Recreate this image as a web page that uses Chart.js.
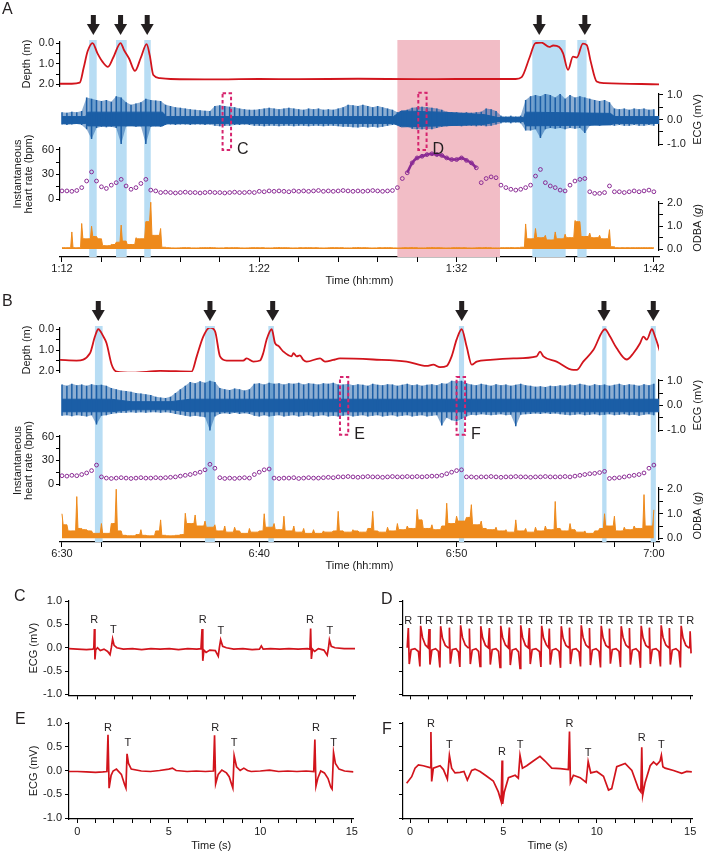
<!DOCTYPE html>
<html>
<head>
<meta charset="utf-8">
<script src="https://cdn.jsdelivr.net/npm/chart.js@4.4.1/dist/chart.umd.min.js"></script>
<style>
  html, body { margin: 0; padding: 0; background: #fff; }
  #fig { position: relative; width: 706px; height: 853px; overflow: hidden; font-family: 'Liberation Sans', Arial, sans-serif; }
  #fig canvas { position: absolute; }
  .tag { position: absolute; font-size: 16px; line-height: 16px; color: #231f20; }
</style>
</head>
<body>
<div id="fig">
  <canvas id="chartA" width="706" height="290" style="left:0;top:0"></canvas>
  <canvas id="chartB" width="706" height="289" style="left:0;top:286px"></canvas>
  <canvas id="chartC" width="360" height="122" style="left:0;top:583px"></canvas>
  <canvas id="chartE" width="360" height="148" style="left:0;top:705px"></canvas>
  <canvas id="chartD" width="366" height="122" style="left:340px;top:583px"></canvas>
  <canvas id="chartF" width="366" height="148" style="left:340px;top:705px"></canvas>
  <div class="tag" style="left:2px;top:1px">A</div>
  <div class="tag" style="left:2px;top:293px">B</div>
  <div class="tag" style="left:14px;top:588px">C</div>
  <div class="tag" style="left:15px;top:711px">E</div>
  <div class="tag" style="left:381px;top:591px">D</div>
  <div class="tag" style="left:382px;top:721px">F</div>
</div>
<script>
// ---- shared axes ----
const timeTicks = [0, 2, 4, 6, 8, 10, 12, 14, 16, 18, 20, 22, 24, 26, 28, 30];
const timeLabelsA = ['1:12', '1:22', '1:32', '1:42'];
const timeLabelsB = ['6:30', '6:40', '6:50', '7:00'];
const depthTicks = [0, 0.5, 1, 1.5, 2];
const ecgTicks = [-1, -0.5, 0, 0.5, 1];
const hrTicks = [0, 15, 30, 45, 60];
const odbaTicks = [0, 0.5, 1, 1.5, 2];
const secTicks = [0, 1, 2, 3, 4, 5, 6, 7, 8, 9, 10, 11, 12, 13, 14, 15];

// minutes after start, one sample every 0.25 min
const sampleTimes = Array.from({ length: 121 }, (_, i) => i * 0.25);

// ---- panel A (1:12 - 1:42) ----
const depthAT = [-0.1, 0.5, 0.9, 1.1, 1.3, 1.55, 1.8, 2.05, 2.33, 2.6, 2.97, 3.15, 3.4, 3.7, 4.0, 4.29, 4.45, 4.63, 4.97, 5.5, 8, 10, 12, 15, 18, 20, 23.0, 23.3, 23.7, 24.0, 24.3, 24.7, 24.9, 25.2, 25.4, 25.65, 25.9, 26.1, 26.4, 26.6, 26.8, 27.1, 27.5, 30.3];
const depthAV = [1.97, 1.97, 1.92, 1.2, 0.4, 0.0, 0.5, 0.9, 1.15, 0.7, 0.0, 0.35, 0.75, 1.35, 0.7, 0.05, 0.6, 1.55, 1.7, 1.74, 1.76, 1.74, 1.75, 1.73, 1.75, 1.74, 1.74, 1.65, 0.7, 0.0, -0.02, 0.19, 0.12, 0.19, 0.5, 1.3, 0.66, 0.7, 0.03, 0.1, 0.9, 1.86, 1.94, 2.0];
const ecgATop = [
  0.30, 0.28, 0.32, 0.30, 0.35, 0.90, 0.85, 0.80, 0.75, 0.80, 0.72, 0.95, 0.90, 0.70, 0.60, 0.65, 0.70, 0.85, 0.80, 0.78, 0.75,
  0.60, 0.55, 0.50, 0.48, 0.45, 0.42, 0.40, 0.38, 0.36, 0.35, 0.55, 0.58, 0.55, 0.52, 0.50, 0.45, 0.42, 0.40, 0.40,
  0.42, 0.45, 0.48, 0.45, 0.42, 0.45, 0.48, 0.45, 0.42, 0.40, 0.45, 0.42, 0.45, 0.40, 0.42, 0.40, 0.45, 0.50, 0.60, 0.58,
  0.55, 0.60, 0.55, 0.50, 0.55, 0.50, 0.45, 0.40, 0.30, 0.35, 0.40, 0.48, 0.50, 0.52, 0.50, 0.48, 0.45, 0.40,
  0.32, 0.30, 0.30, 0.28, 0.30, 0.28, 0.30, 0.32, 0.45, 0.42, 0.35, 0.15, 0.12, 0.15, 0.12, 0.15, 0.80, 0.95, 1.00,
  0.95, 1.05, 1.00, 0.90, 1.05, 0.85, 1.00, 0.90, 0.95, 0.90, 0.85, 0.80, 0.75, 0.80, 0.70,
  0.45, 0.42, 0.45, 0.40, 0.45, 0.42, 0.45, 0.40, 0.42];
const ecgABot = [
  -0.20, -0.22, -0.20, -0.18, -0.22, -0.40, -0.80, -0.35, -0.30, -0.32, -0.30, -0.35, -1.00, -0.28, -0.25, -0.30, -0.28, -1.00, -0.30, -0.28, -0.30,
  -0.22, -0.20, -0.22, -0.20, -0.20, -0.22, -0.20, -0.20, -0.22, -0.20, -0.25, -0.28, -0.25, -0.25, -0.22, -0.22, -0.20, -0.22, -0.25,
  -0.25, -0.28, -0.25, -0.25, -0.28, -0.25, -0.25, -0.28, -0.25, -0.25, -0.28, -0.25, -0.25, -0.28, -0.25, -0.25, -0.28, -0.30, -0.30, -0.32,
  -0.33, -0.30, -0.33, -0.30, -0.33, -0.30, -0.25, -0.22, -0.20, -0.22, -0.30, -0.38, -0.40, -0.40, -0.38, -0.40, -0.35, -0.30,
  -0.28, -0.25, -0.25, -0.28, -0.25, -0.25, -0.28, -0.25, -0.28, -0.25, -0.20, -0.15, -0.12, -0.15, -0.12, -0.15, -0.45, -0.45, -0.40,
  -0.75, -0.40, -0.35, -0.38, -0.35, -0.40, -0.35, -0.38, -0.35, -0.55, -0.25, -0.22, -0.25, -0.20, -0.22,
  -0.25, -0.22, -0.25, -0.25, -0.22, -0.25, -0.25, -0.22, -0.25];
// solid noise band under the beats
const ecgACoreT = [0, 1.2, 1.3, 5.1, 5.3, 16.8, 17.2, 19.2, 21.4, 22.1, 23.4, 23.5, 27.8, 28, 30.3];
const ecgACoreHi = [0.12, 0.12, 0.3, 0.3, 0.12, 0.12, 0.35, 0.3, 0.2, 0.08, 0.08, 0.3, 0.25, 0.12, 0.12];
const ecgACoreLo = [-0.16, -0.16, -0.26, -0.26, -0.16, -0.16, -0.3, -0.26, -0.2, -0.08, -0.08, -0.26, -0.22, -0.16, -0.16];
const hrA = [
  10, 10, 9.5, 10.5, 14, 22, 33, 22, 15, 13, 17, 20, 24, 16, 12, 14, 19, 24, 11, 10,
  8, 8.5, 8, 7.5, 8, 8.5, 8, 8, 7.5, 8, 8.5, 8, 8, 7.5, 8, 8.5, 8, 8, 8.5, 8,
  9.5, 9, 10, 9.5, 10, 9.5, 9, 10, 9.5, 10, 9.5, 10, 10.5, 9.5, 10, 9.5, 10, 10.5, 10, 9.5,
  10, 9.5, 10, 10.5, 10, 9.5, 10, 10.5,
  14, 25, 32, 44, 50, 52, 54, 55, 54, 53, 50, 48, 48, 50, 47, 44, 38,
  20, 25, 27, 26, 17, 14, 12, 11, 12, 14,
  17, 28, 36, 20, 16, 14, 11, 10, 17, 22, 24, 25, 9, 7,
  7, 8, 16, 9, 9, 8, 9, 10, 9, 10, 11, 9];
// stretch where beats are so close that the dots merge into a line
const hrADense = [17.5, 21.0];
const odbaA = [
  0.06, 0.06, 0.75, 0.06, 1.12, 0.45, 1.0, 0.55, 0.45, 0.15, 0.2, 0.3, 1.05, 0.35, 0.2, 0.5, 0.45, 1.2, 2.05, 0.6, 0.9, 0.08,
  0.06, 0.05, 0.06, 0.07, 0.06, 0.05, 0.06, 0.06, 0.07, 0.06, 0.05, 0.06, 0.06, 0.07, 0.06, 0.05, 0.06, 0.07, 0.06, 0.06,
  0.05, 0.06, 0.07, 0.06, 0.06, 0.05, 0.06, 0.06, 0.07, 0.06, 0.06, 0.05, 0.06, 0.07, 0.06, 0.06, 0.05, 0.06, 0.07, 0.06,
  0.06, 0.05, 0.06, 0.06, 0.07, 0.06, 0.05, 0.06, 0.06, 0.07, 0.06, 0.05, 0.06, 0.07, 0.06, 0.06, 0.05, 0.06, 0.07, 0.06,
  0.06, 0.05, 0.06, 0.06, 0.07, 0.06, 0.05, 0.06, 0.06, 0.07, 0.06,
  0.08, 1.1, 0.45, 0.9, 0.5, 0.6, 0.4, 0.75, 0.45, 0.65, 0.5, 1.25, 1.2, 0.55, 0.7, 0.5, 0.6, 0.45, 0.85, 0.1,
  0.06, 0.06, 0.06, 0.06, 0.06, 0.06, 0.06, 0.06];
const blueBandsA = [[1.38, 1.76], [2.74, 3.28], [4.17, 4.5], [23.84, 25.53], [26.12, 26.59]];
const pinkBandsA = [[17.0, 22.2]];
const arrowsA = [1.59, 2.97, 4.32, 24.19, 26.5];
const boxesA = [[8.14, 8.57, 1.07, -1.24, 'C'], [18.06, 18.48, 1.09, -1.24, 'D']];

// ---- panel B (6:30 - 7:00) ----
const depthBT = [-0.1, 0.74, 1.42, 1.67, 1.84, 2.1, 2.26, 2.52, 2.77, 3.6, 4.97, 6.57, 6.83, 7.16, 7.5, 7.76, 8.01, 8.35, 9.19, 9.36, 9.7, 10.04, 10.2, 10.37, 10.63, 10.8, 10.97, 11.22, 11.64, 11.73, 11.9, 12.06, 12.23, 12.4, 13.08, 13.33, 13.75, 14.09, 15.78, 17.47, 18.48, 18.82, 19.16, 19.5, 19.75, 20.0, 20.26, 20.51, 20.77, 21.02, 21.7, 22.88, 24.06, 24.23, 24.4, 25.07, 25.92, 26.09, 26.42, 26.93, 27.52, 27.78, 28.11, 28.62, 28.96, 29.3, 29.47, 29.64, 29.9, 30.06, 30.31];
const depthBV = [1.47, 1.5, 1.15, 0.35, 0.0, 0.35, 0.67, 1.7, 2.03, 2.08, 2.0, 2.03, 1.3, 0.35, -0.08, 0.1, 1.3, 1.5, 1.5, 1.4, 1.55, 1.5, 1.15, 0.5, 0.0, 0.67, 0.8, 1.07, 1.3, 1.15, 1.3, 1.25, 1.47, 1.55, 1.4, 1.55, 1.47, 1.4, 1.45, 1.55, 1.76, 1.7, 1.82, 1.76, 1.3, 0.5, 0.0, 0.83, 1.7, 1.55, 1.47, 1.4, 1.3, 1.07, 1.3, 1.55, 1.95, 1.95, 1.55, 1.0, 0.0, 0.35, 0.9, 1.45, 1.15, 0.67, 0.35, 0.5, 0.0, 0.35, 1.07];
const ecgBTop = [
  0.85, 0.8, 0.88, 0.82, 0.85, 0.8, 0.86, 0.82, 0.84, 0.8,
  0.7, 0.65, 0.6, 0.58, 0.55, 0.5, 0.48, 0.45, 0.42, 0.35, 0.32, 0.3, 0.35, 0.5, 0.65, 0.8,
  0.95, 0.9, 0.98, 0.92, 1.0, 0.95, 0.7, 0.65, 0.62, 0.68, 0.65, 0.6, 0.65,
  0.88, 0.9, 0.85, 0.92, 0.88, 0.9, 0.85, 0.9, 0.88, 0.92, 0.85, 0.9, 0.88, 0.85, 0.9, 0.88, 0.92, 0.85,
  0.85, 0.88, 0.82, 0.86, 0.84, 0.8, 0.88, 0.84, 0.82, 0.86, 0.85, 0.8, 0.84, 0.88, 0.82, 0.85, 0.8, 0.84, 0.86, 0.82, 0.9, 0.88,
  1.0, 0.98, 1.0, 0.9,
  0.85, 0.82, 0.88, 0.84, 0.8, 0.86, 0.82, 0.85, 0.8, 0.84, 0.88, 0.82, 0.8, 0.76, 0.78, 0.75, 0.8, 0.78, 0.82, 0.8,
  0.85, 0.82, 0.88, 0.84, 0.8, 0.86, 0.82, 0.85, 0.8, 0.84, 0.88, 0.82, 0.86, 0.84, 0.8, 0.86, 0.82, 0.88];
const ecgBBot = [
  -0.42, -0.4, -0.44, -0.4, -0.42, -0.45, -0.4, -0.78, -0.42, -0.4,
  -0.35, -0.32, -0.3, -0.3, -0.28, -0.3, -0.28, -0.3, -0.28, -0.28, -0.3, -0.28, -0.3, -0.35, -0.38, -0.42,
  -0.45, -0.42, -0.45, -0.48, -1.02, -0.45, -0.35, -0.32, -0.35, -0.3, -0.35, -0.32, -0.35,
  -0.42, -0.45, -0.4, -0.45, -0.42, -0.4, -0.45, -0.42, -0.4, -0.45, -0.42, -0.4, -0.45, -0.42, -0.4, -0.45, -0.42, -0.45,
  -0.42, -0.4, -0.45, -0.42, -0.4, -0.45, -0.42, -0.4, -0.45, -0.42, -0.4, -0.45, -0.42, -0.4, -0.45, -0.42, -0.4, -0.45, -0.42, -0.4, -0.82, -0.5,
  -0.6, -0.65, -0.55, -0.45,
  -0.38, -0.4, -0.36, -0.38, -0.4, -0.38, -0.36, -0.4, -0.38, -0.85, -0.38, -0.36, -0.35, -0.33, -0.35, -0.32, -0.35, -0.33, -0.36, -0.38,
  -0.4, -0.38, -0.36, -0.4, -0.38, -0.36, -0.4, -0.38, -0.36, -0.4, -0.38, -0.36, -0.4, -0.38, -0.42, -0.38, -0.36, -0.4];
const ecgBCoreT = [0, 2.5, 3.5, 5.5, 6.5, 30.3];
const ecgBCoreHi = [0.25, 0.25, 0.15, 0.15, 0.25, 0.25];
const ecgBCoreLo = [-0.26, -0.26, -0.18, -0.18, -0.26, -0.26];
const hrB = [
  10.5, 10, 11, 10.5, 12, 14, 17, 24, 9,
  7.5, 7, 7.5, 8, 7.5, 7, 7.5, 8, 7.5, 7.5, 8, 7.5, 8,
  8.5, 9, 10, 11, 12, 13.5, 15, 18, 25, 20, 8,
  7, 7.5, 7, 7.5, 8, 7.5, 12, 15, 18, 19, 7.5,
  7, 7.5, 7.5, 8, 7, 7.5, 8, 7.5, 7.5, 8, 8.5, 8, 9,
  9, 9.5, 9, 8.5, 9, 9.5, 9, 9, 8.5, 9, 9.5, 9, 9, 9.5, 9, 9.5, 9, 9.5, 10, 10,
  11, 13, 15, 17, 18, 9,
  9, 8.5, 9, 9, 9.5, 9, 8.5, 9, 9, 9.5, 9, 9, 8.5, 9, 9, 9.5, 9, 9, 9, 9.5, 9,
  10, 11, 12, 13, 13.5, 14.5, 16, 7,
  7.5, 8, 9, 10, 11, 12, 14, 20, 24];
const odbaB = [
  1.0, 0.55, 0.3, 1.7, 0.4, 0.35, 0.3, 0.2, 0.6, 0.2, 0.6, 2.0, 0.3, 0.12, 0.1, 0.15, 0.35, 0.12, 0.1, 0.3,
  0.75, 0.12, 0.1, 0.12, 0.15, 1.02, 0.6, 0.95, 0.5, 0.7, 0.45, 0.55, 0.3, 0.5, 0.25, 0.45, 0.3, 0.2, 0.4, 0.25,
  0.3, 1.0, 0.45, 0.6, 0.35, 0.9, 0.3, 0.5, 0.25, 0.4, 0.2, 0.35, 0.2, 0.3, 0.25, 0.3, 1.1, 0.3, 0.25, 0.35,
  0.3, 0.25, 0.4, 1.1, 0.3, 0.25, 0.45, 0.3, 0.6, 0.35, 0.5, 0.4, 1.18, 0.75, 0.4, 0.55, 0.35, 0.5, 1.43, 0.6,
  0.9, 0.7, 0.85, 1.37, 0.55, 0.7, 0.4, 0.35, 0.45, 0.3, 0.35, 0.25, 0.75, 0.3, 0.4, 0.25, 0.45, 0.3, 0.5, 0.35,
  1.5, 0.4, 0.3, 0.6, 0.35, 0.25, 0.3, 0.2, 0.3, 0.4, 1.0, 0.5, 0.9, 0.3, 0.45, 0.35, 0.5, 0.4, 1.78, 0.5,
  1.16];
const blueBandsB = [[1.67, 2.06], [7.25, 7.75], [10.46, 10.74], [20.12, 20.38], [27.38, 27.6], [29.84, 30.1]];
const arrowsB = [1.84, 7.5, 10.68, 20.26, 27.47, 29.97];
const boxesB = [[14.09, 14.51, 1.15, -1.19, 'E'], [20.0, 20.43, 1.15, -1.19, 'F']];

// ---- 15 s ECG excerpts ----
const cT = [-0.45, 0.0, 0.5, 0.85, 0.9, 0.93, 0.96, 1.0, 1.1, 1.25, 1.45, 1.65, 1.78, 1.85, 1.92, 2.0, 2.15, 2.5, 3.0, 3.5, 4.0, 4.5, 5.0, 5.5, 6.0, 6.5, 6.72, 6.78, 6.82, 6.88, 7.0, 7.2, 7.5, 7.66, 7.72, 7.79, 7.9, 8.1, 8.5, 9.0, 9.5, 9.9, 10.0, 10.1, 10.5, 11.0, 11.5, 12.0, 12.5, 12.64, 12.68, 12.72, 12.78, 12.9, 13.1, 13.4, 13.58, 13.65, 13.7, 13.8, 14.0, 14.5, 15.09];
const cV = [-0.02, -0.03, -0.04, -0.03, 0.0, 0.4, -0.25, -0.05, 0.0, -0.06, -0.03, -0.08, -0.15, 0.0, 0.19, 0.05, 0.0, -0.03, -0.02, -0.04, -0.02, -0.03, -0.02, -0.04, -0.02, -0.03, -0.02, 0.4, -0.28, -0.05, -0.1, -0.05, -0.06, -0.18, 0.0, 0.17, 0.03, 0.0, -0.03, -0.02, -0.04, -0.03, 0.04, -0.03, -0.02, -0.03, -0.02, -0.03, -0.02, -0.03, 0.41, -0.24, -0.03, -0.08, -0.02, -0.05, -0.16, 0.0, 0.17, 0.03, 0.0, -0.02, -0.02];
const cMarks = [[0.92, 0.6, 'R'], [1.96, 0.38, 'T'], [6.82, 0.6, 'R'], [7.8, 0.36, 'T'], [12.65, 0.6, 'R'], [13.73, 0.36, 'T']];

const eT = [-0.45, 0.0, 0.5, 1.0, 1.4, 1.62, 1.68, 1.74, 1.85, 1.96, 2.14, 2.41, 2.59, 2.66, 2.72, 2.8, 2.95, 3.5, 4.0, 4.5, 5.0, 5.2, 5.4, 6.0, 6.5, 7.0, 7.44, 7.5, 7.56, 7.7, 7.9, 8.15, 8.3, 8.44, 8.5, 8.57, 8.7, 8.9, 9.1, 9.3, 9.5, 10.0, 10.5, 11.0, 11.5, 12.0, 12.5, 12.92, 12.98, 13.04, 13.15, 13.3, 13.5, 13.7, 13.85, 13.92, 14.0, 14.1, 14.3, 14.6, 15.09];
const eV = [-0.02, -0.02, -0.03, -0.04, -0.03, -0.02, 0.75, -0.37, -0.1, -0.01, 0.03, -0.08, -0.3, -0.37, 0.35, 0.15, 0.03, -0.01, -0.02, 0.0, 0.03, 0.05, 0.0, -0.02, -0.01, -0.02, -0.01, 0.74, -0.28, -0.08, 0.01, -0.05, -0.13, -0.3, -0.37, 0.31, 0.08, 0.0, 0.05, 0.0, -0.02, -0.01, 0.01, -0.02, -0.01, -0.02, -0.01, -0.02, 0.65, -0.33, -0.15, -0.01, -0.05, -0.17, -0.35, -0.39, 0.38, 0.15, 0.03, -0.01, -0.03];
const eMarks = [[1.68, 0.9, 'R'], [2.77, 0.58, 'T'], [7.54, 0.9, 'R'], [8.57, 0.58, 'T'], [13.04, 0.9, 'R'], [14.0, 0.58, 'T']];

const dT = [
  -0.15, -0.09, -0.04, 0.06, 0.26, 0.45, 0.53, 0.57, 0.67, 0.82, 0.97,
  1.0, 1.02, 1.07, 1.17, 1.37, 1.52, 1.6, 1.64, 1.74, 1.89, 2.04,
  2.09, 2.11, 2.16, 2.26, 2.46, 2.59, 2.67, 2.71, 2.81, 2.96, 3.11,
  3.16, 3.18, 3.23, 3.33, 3.53, 3.67, 3.75, 3.79, 3.89, 4.04, 4.19,
  4.23, 4.25, 4.3, 4.4, 4.6, 4.74, 4.82, 4.86, 4.96, 5.11, 5.26,
  5.3, 5.32, 5.37, 5.47, 5.67, 5.81, 5.89, 5.93, 6.03, 6.18, 6.33,
  6.37, 6.39, 6.44, 6.54, 6.74, 6.93, 7.01, 7.05, 7.15, 7.3, 7.42,
  7.44, 7.46, 7.51, 7.61, 7.81, 7.98, 8.06, 8.1, 8.2, 8.35, 8.5,
  8.52, 8.54, 8.59, 8.69, 8.89, 9.05, 9.13, 9.17, 9.27, 9.42, 9.57,
  9.59, 9.61, 9.66, 9.76, 9.96, 10.12, 10.2, 10.24, 10.34, 10.49, 10.64,
  10.66, 10.68, 10.73, 10.83, 11.03, 11.19, 11.27, 11.31, 11.41, 11.56, 11.71,
  11.73, 11.75, 11.8, 11.9, 12.1, 12.26, 12.34, 12.38, 12.48, 12.63, 12.78,
  12.8, 12.82, 12.87, 12.97, 13.17, 13.33, 13.41, 13.45, 13.55, 13.7, 13.85,
  13.87, 13.89, 13.94, 14.04, 14.24, 14.4, 14.48, 14.52, 14.62, 14.77, 14.92,
  14.98, 15.0, 15.05];
const dV = [
  0.0, 0.42, -0.35, -0.04, -0.02, -0.08, -0.4, 0.47, 0.22, 0.06, 0.0,
  0.0, 0.4, -0.36, -0.05, -0.02, -0.08, -0.42, 0.46, 0.2, 0.05, 0.0,
  0.0, 0.43, -0.34, -0.04, -0.02, -0.09, -0.41, 0.48, 0.22, 0.06, 0.0,
  0.0, 0.41, -0.35, -0.05, -0.02, -0.08, -0.4, 0.46, 0.21, 0.05, 0.0,
  0.0, 0.42, -0.36, -0.04, -0.02, -0.08, -0.42, 0.47, 0.22, 0.06, 0.0,
  0.0, 0.43, -0.37, -0.05, -0.02, -0.09, -0.44, 0.48, 0.22, 0.05, 0.0,
  0.0, 0.42, -0.35, -0.04, -0.02, -0.08, -0.41, 0.47, 0.21, 0.06, 0.0,
  0.0, 0.41, -0.36, -0.05, -0.02, -0.08, -0.43, 0.46, 0.2, 0.05, 0.0,
  0.0, 0.43, -0.35, -0.04, -0.02, -0.09, -0.4, 0.48, 0.22, 0.06, 0.0,
  0.0, 0.42, -0.37, -0.05, -0.02, -0.08, -0.42, 0.47, 0.21, 0.05, 0.0,
  0.0, 0.41, -0.34, -0.04, -0.02, -0.08, -0.41, 0.46, 0.22, 0.06, 0.0,
  0.0, 0.42, -0.36, -0.05, -0.02, -0.09, -0.43, 0.47, 0.21, 0.05, 0.0,
  0.0, 0.43, -0.35, -0.04, -0.02, -0.08, -0.4, 0.48, 0.22, 0.06, 0.0,
  0.0, 0.42, -0.36, -0.05, -0.02, -0.08, -0.42, 0.47, 0.21, 0.05, 0.0,
  0.0, 0.35, -0.12];
const dMarkT = [-0.09, 0.57, 1.02, 1.64, 2.11, 2.71, 3.18, 3.79, 4.25, 4.86, 5.32, 5.93, 6.39, 7.05, 7.46, 8.1, 8.54, 9.17, 9.61, 10.24, 10.68, 11.31, 11.75, 12.38, 12.82, 13.45, 13.89, 14.52, 15.0];
const dMarks = dMarkT.map((t, i) => [t, 0.58, i % 2 === 0 ? 'R' : 'T']);

const fT = [-0.18, 0.09, 0.27, 0.45, 0.71, 1.07, 1.1, 1.12, 1.16, 1.25, 1.61, 1.79, 2.0, 2.11, 2.23, 2.41, 2.68, 2.89, 3.07, 3.3, 3.48, 3.75, 4.11, 4.46, 4.73, 4.88, 4.93, 4.96, 5.05, 5.27, 5.63, 5.8, 5.89, 6.02, 6.25, 6.6, 6.96, 7.23, 7.59, 8.04, 8.48, 8.54, 8.59, 8.75, 9.11, 9.43, 9.54, 9.68, 10.0, 10.36, 10.63, 10.8, 11.07, 11.52, 11.88, 12.23, 12.36, 12.41, 12.46, 12.59, 12.86, 13.04, 13.21, 13.39, 13.46, 13.54, 13.66, 14.11, 14.55, 14.82, 15.09];
const fV = [-0.27, -0.13, 0.05, 0.12, 0.1, 0.06, 0.06, 0.81, -0.23, 0.05, 0.1, 0.02, -0.18, 0.32, 0.05, -0.05, -0.04, -0.02, -0.2, 0.0, 0.03, -0.02, -0.12, -0.22, -0.45, -0.65, 0.21, -0.7, -0.45, -0.15, -0.1, -0.16, 0.32, 0.05, 0.1, 0.2, 0.3, 0.2, 0.05, 0.04, 0.02, 0.82, -0.25, -0.1, -0.15, -0.25, 0.19, -0.05, -0.02, -0.12, -0.41, -0.38, 0.08, 0.15, 0.0, -0.38, -0.45, 0.49, -0.52, -0.25, 0.1, 0.18, 0.12, 0.2, 0.32, 0.08, 0.05, 0.0, -0.06, -0.02, -0.03];
const fMarks = [[1.12, 0.98, 'R'], [2.11, 0.54, 'T'], [4.93, 0.4, 'R'], [5.89, 0.53, 'T'], [8.54, 0.98, 'R'], [9.54, 0.37, 'T'], [12.41, 0.68, 'R'], [13.46, 0.53, 'T']];

// ---- styling ----
const family = "'Liberation Sans', Arial, Helvetica, sans-serif";
Chart.defaults.font.family = family;
Chart.defaults.font.size = 11;
Chart.defaults.color = '#1a1a1a';

const RED = '#d2141c';
const BLUE = '#1b5ea6';
const BLUE_SOFT = 'rgba(27, 94, 166, 0.5)';
const PURPLE = '#8a2b94';
const ORANGE = '#ee8a1c';
const INK = '#231f20';
const axisGrid = { drawOnChartArea: false, drawTicks: true, tickLength: 4, color: '#000', lineWidth: 1 };
const axisBorder = { display: true, color: '#000', width: 1.2 };
const oneDecimal = v => Number.isInteger(v) ? v.toFixed(1) : '';
const pts = (t, v) => t.map((x, i) => ({ x, y: v[i] }));

// one vertical stroke per sample, from the low to the high reading
function beats(top, bot) {
  const out = [];
  top.forEach((v, i) => {
    out.push({ x: sampleTimes[i], y: bot[i] }, { x: sampleTimes[i], y: v }, { x: sampleTimes[i], y: null });
  });
  return out;
}

// narrow peaks: each reading drops to the lower neighbour right after it
function peaks(vals) {
  const out = [];
  vals.forEach((v, i) => {
    out.push({ x: sampleTimes[i], y: v });
    if (i < vals.length - 1) {
      const low = Math.min(v, vals[i + 1]);
      out.push({ x: sampleTimes[i] + 0.06, y: low }, { x: sampleTimes[i + 1] - 0.06, y: low });
    }
  });
  return out;
}

// heart-rate readings inside [from, to] joined as a line
function denseRun(vals, span) {
  if (!span) return [];
  return pts(sampleTimes, vals).filter(p => p.x >= span[0] && p.x <= span[1]);
}

function rotatedTitle(ctx, parts, x, y) {
  ctx.save();
  ctx.translate(x, y);
  ctx.rotate(-Math.PI / 2);
  ctx.textBaseline = 'middle';
  ctx.textAlign = 'left';
  ctx.fillStyle = '#1a1a1a';
  const fontOf = it => (it ? 'italic ' : '') + '11px ' + family;
  let total = 0;
  parts.forEach(([s, it]) => { ctx.font = fontOf(it); total += ctx.measureText(s).width; });
  let cx = -total / 2;
  parts.forEach(([s, it]) => { ctx.font = fontOf(it); ctx.fillText(s, cx, 0); cx += ctx.measureText(s).width; });
  ctx.restore();
}

function panelMarks(p) {
  return {
    id: 'panelMarks',
    beforeDatasetsDraw(chart) {
      const { ctx, chartArea: a, scales: { x } } = chart;
      ctx.save();
      const band = (list, color) => {
        ctx.fillStyle = color;
        list.forEach(([s, e]) => {
          const x0 = x.getPixelForValue(s), x1 = x.getPixelForValue(e);
          ctx.fillRect(x0, a.top, x1 - x0, a.bottom - a.top);
        });
      };
      band(p.pink, '#f2bdc6');
      band(p.blue, '#b8ddf4');
      ctx.restore();
    },
    afterDatasetsDraw(chart) {
      const { ctx, chartArea: a, scales: { x, yEcg } } = chart;
      ctx.save();
      ctx.strokeStyle = '#d6246e';
      ctx.lineWidth = 2;
      ctx.setLineDash([3.5, 2.5]);
      ctx.font = '16px ' + family;
      ctx.textBaseline = 'middle';
      ctx.fillStyle = INK;
      p.boxes.forEach(([s, e, top, bot, txt]) => {
        const x0 = x.getPixelForValue(s), x1 = x.getPixelForValue(e);
        const y0 = yEcg.getPixelForValue(top), y1 = yEcg.getPixelForValue(bot);
        ctx.strokeRect(x0, y0, x1 - x0, y1 - y0);
        ctx.fillText(txt, x1 + 6, y1);
      });
      ctx.setLineDash([]);
      p.arrows.forEach(t => {
        const cx = x.getPixelForValue(t);
        ctx.fillRect(cx - 2.5, a.top - 25, 5, 10);
        ctx.beginPath();
        ctx.moveTo(cx - 6.5, a.top - 16);
        ctx.lineTo(cx + 6.5, a.top - 16);
        ctx.lineTo(cx, a.top - 5);
        ctx.closePath();
        ctx.fill();
      });
      ctx.restore();
    },
    afterDraw(chart) {
      const { ctx, scales: { yEcg, yOdba } } = chart;
      rotatedTitle(ctx, [['ECG (mV)', false]], 698, (yEcg.top + yEcg.bottom) / 2);
      rotatedTitle(ctx, [['ODBA (', false], ['g', true], [')', false]], 698, (yOdba.top + yOdba.bottom) / 2 + 2);
    }
  };
}

function spacer(pos, w, order) {
  return { type: 'linear', display: false, position: pos, stack: 'stk', stackWeight: w, weight: order };
}

function yAxis(pos, w, order, range, ticks, label, extra) {
  return Object.assign({
    type: 'linear', position: pos, stack: 'stk', stackWeight: w, weight: order,
    min: range[0], max: range[1],
    afterBuildTicks: s => { s.ticks = ticks.map(value => ({ value })); },
    ticks: { autoSkip: false, padding: pos === 'left' ? 2 : 4, callback: label },
    grid: axisGrid, border: axisBorder,
    afterFit: s => { s.width = pos === 'left' ? 60 : 47; }
  }, extra || {});
}

function buildPanel(id, p) {
  new Chart(document.getElementById(id), {
    type: 'line',
    data: {
      datasets: [
        { data: pts(p.depthT, p.depthV), yAxisID: 'yDepth', borderColor: RED, borderWidth: 1.8, pointRadius: 0, cubicInterpolationMode: 'monotone' },
        { data: beats(p.ecgTop, p.ecgBot), yAxisID: 'yEcg', borderColor: BLUE, borderWidth: 1.5, borderCapStyle: 'butt', pointRadius: 0, spanGaps: false },
        { data: pts(p.coreT, p.coreHi), yAxisID: 'yEcg', borderColor: BLUE, backgroundColor: BLUE, borderWidth: 1, pointRadius: 0, fill: '+1' },
        { data: pts(p.coreT, p.coreLo), yAxisID: 'yEcg', borderColor: BLUE, borderWidth: 1, pointRadius: 0 },
        { data: pts(sampleTimes, p.ecgTop), yAxisID: 'yEcg', borderWidth: 0, backgroundColor: BLUE_SOFT, pointRadius: 0, fill: '+1' },
        { data: pts(sampleTimes, p.ecgBot), yAxisID: 'yEcg', borderWidth: 0, pointRadius: 0 },
        { data: denseRun(p.hr, p.hrDense), yAxisID: 'yHr', borderColor: PURPLE, borderWidth: 2.6, pointRadius: 0, cubicInterpolationMode: 'monotone' },
        { data: pts(sampleTimes, p.hr), yAxisID: 'yHr', showLine: false, pointRadius: 1.9, pointBorderWidth: 1, pointBorderColor: PURPLE, pointBackgroundColor: 'rgba(0,0,0,0)' },
        { data: peaks(p.odba), yAxisID: 'yOdba', borderColor: ORANGE, backgroundColor: ORANGE, borderWidth: 1, pointRadius: 0, fill: 'origin' }
      ]
    },
    options: {
      responsive: false, animation: false, events: [],
      layout: { padding: { top: 40, left: 0, right: 0, bottom: 0 } },
      plugins: { legend: { display: false }, tooltip: { enabled: false } },
      scales: {
        x: {
          type: 'linear', position: 'bottom', min: -0.1, max: 30.26,
          afterBuildTicks: s => { s.ticks = timeTicks.map(value => ({ value })); },
          ticks: { autoSkip: false, maxRotation: 0, padding: 0, callback: v => v % 10 === 0 ? p.timeLabels[v / 10] : '' },
          grid: Object.assign({}, axisGrid, { tickLength: 5 }), border: axisBorder,
          title: { display: true, text: 'Time (hh:mm)', padding: { top: 0, bottom: 2.4 } },
          afterFit: s => { s.height = 33; }
        },
        lTop: spacer('left', p.left[0], 5),
        yDepth: yAxis('left', p.left[1], 4, p.depthRange, depthTicks, oneDecimal, {
          reverse: true,
          title: { display: true, text: 'Depth (m)', padding: { top: 20.4, bottom: 0 } }
        }),
        lMid: spacer('left', p.left[2], 3),
        yHr: yAxis('left', p.left[3], 2, p.hrRange, hrTicks, v => v % 30 === 0 ? String(v) : '', {
          title: { display: true, text: ['Instantaneous', 'heart rate (bpm)'], font: { size: 11, lineHeight: 1.05 }, padding: { top: 11.7, bottom: 0 } }
        }),
        lBot: spacer('left', p.left[4], 1),
        rTop: spacer('right', p.right[0], 1),
        yEcg: yAxis('right', p.right[1], 2, p.ecgRange, ecgTicks, oneDecimal),
        rMid: spacer('right', p.right[2], 3),
        yOdba: yAxis('right', p.right[3], 4, p.odbaRange, odbaTicks, oneDecimal),
        rBot: spacer('right', p.right[4], 5)
      }
    },
    plugins: [panelMarks(p)]
  });
}

function traceMarks(marks) {
  return {
    id: 'traceMarks',
    afterDatasetsDraw(chart) {
      const { ctx, scales: { x, y } } = chart;
      ctx.save();
      ctx.font = '11px ' + family;
      ctx.fillStyle = INK;
      ctx.textAlign = 'center';
      ctx.textBaseline = 'middle';
      marks.forEach(([t, v, s]) => ctx.fillText(s, x.getPixelForValue(t), y.getPixelForValue(v)));
      ctx.restore();
    }
  };
}

function buildTrace(id, t, v, marks, o) {
  new Chart(document.getElementById(id), {
    type: 'line',
    data: { datasets: [{ data: pts(t, v), borderColor: RED, borderWidth: 1.7, pointRadius: 0 }] },
    options: {
      responsive: false, animation: false, events: [],
      layout: { padding: { top: 18, left: 0, right: o.padRight, bottom: 0 } },
      plugins: { legend: { display: false }, tooltip: { enabled: false } },
      scales: {
        x: {
          type: 'linear', min: o.xMin, max: o.xMax,
          afterBuildTicks: s => { s.ticks = secTicks.map(value => ({ value })); },
          ticks: { autoSkip: false, maxRotation: 0, padding: 2, callback: val => (o.xLabels && val % 5 === 0) ? String(val) : '' },
          grid: axisGrid, border: axisBorder,
          title: { display: o.xLabels, text: 'Time (s)', padding: { top: 0, bottom: 0.5 } },
          afterFit: s => { s.height = o.xLabels ? 34 : 8; }
        },
        y: {
          type: 'linear', min: -1.02, max: 1.0,
          afterBuildTicks: s => { s.ticks = ecgTicks.map(value => ({ value })); },
          ticks: { autoSkip: false, padding: 3, callback: val => o.yLabels ? val.toFixed(1) : '' },
          grid: axisGrid, border: axisBorder,
          title: { display: o.yLabels, text: 'ECG (mV)', padding: { top: 27.4, bottom: 0 } },
          afterFit: s => { s.width = o.yWidth; }
        }
      }
    },
    plugins: [traceMarks(marks)]
  });
}

buildPanel('chartA', {
  timeLabels: timeLabelsA, depthT: depthAT, depthV: depthAV, ecgTop: ecgATop, ecgBot: ecgABot, hr: hrA, hrDense: hrADense, odba: odbaA,
  coreT: ecgACoreT, coreHi: ecgACoreHi, coreLo: ecgACoreLo,
  left: [2, 44, 62, 52, 57], right: [54, 51, 57, 48, 7],
  depthRange: [-0.05, 2.08], hrRange: [-1, 62], ecgRange: [-1.04, 1.04], odbaRange: [-0.04, 2.06],
  blue: blueBandsA, pink: pinkBandsA, arrows: arrowsA, boxes: boxesA
});
buildPanel('chartB', {
  timeLabels: timeLabelsB, depthT: depthBT, depthV: depthBV, ecgTop: ecgBTop, ecgBot: ecgBBot, hr: hrB, hrDense: null, odba: odbaB,
  coreT: ecgBCoreT, coreHi: ecgBCoreHi, coreLo: ecgBCoreLo,
  left: [2, 44, 63.5, 50, 56.5], right: [53.5, 51.5, 57, 51.5, 2.5],
  depthRange: [-0.06, 2.05], hrRange: [-1.9, 61.5], ecgRange: [-1.04, 1.05], odbaRange: [-0.05, 2.05],
  blue: blueBandsB, pink: [], arrows: arrowsB, boxes: boxesB
});
buildTrace('chartC', cT, cV, cMarks, { xMin: -0.45, xMax: 15.09, padRight: 5, yWidth: 69, xLabels: false, yLabels: true });
buildTrace('chartE', eT, eV, eMarks, { xMin: -0.45, xMax: 15.09, padRight: 5, yWidth: 69, xLabels: true, yLabels: true });
buildTrace('chartD', dT, dV, dMarks, { xMin: -0.375, xMax: 15.1, padRight: 14, yWidth: 63, xLabels: false, yLabels: false });
buildTrace('chartF', fT, fV, fMarks, { xMin: -0.375, xMax: 15.1, padRight: 14, yWidth: 63, xLabels: true, yLabels: false });
</script>
</body>
</html>
